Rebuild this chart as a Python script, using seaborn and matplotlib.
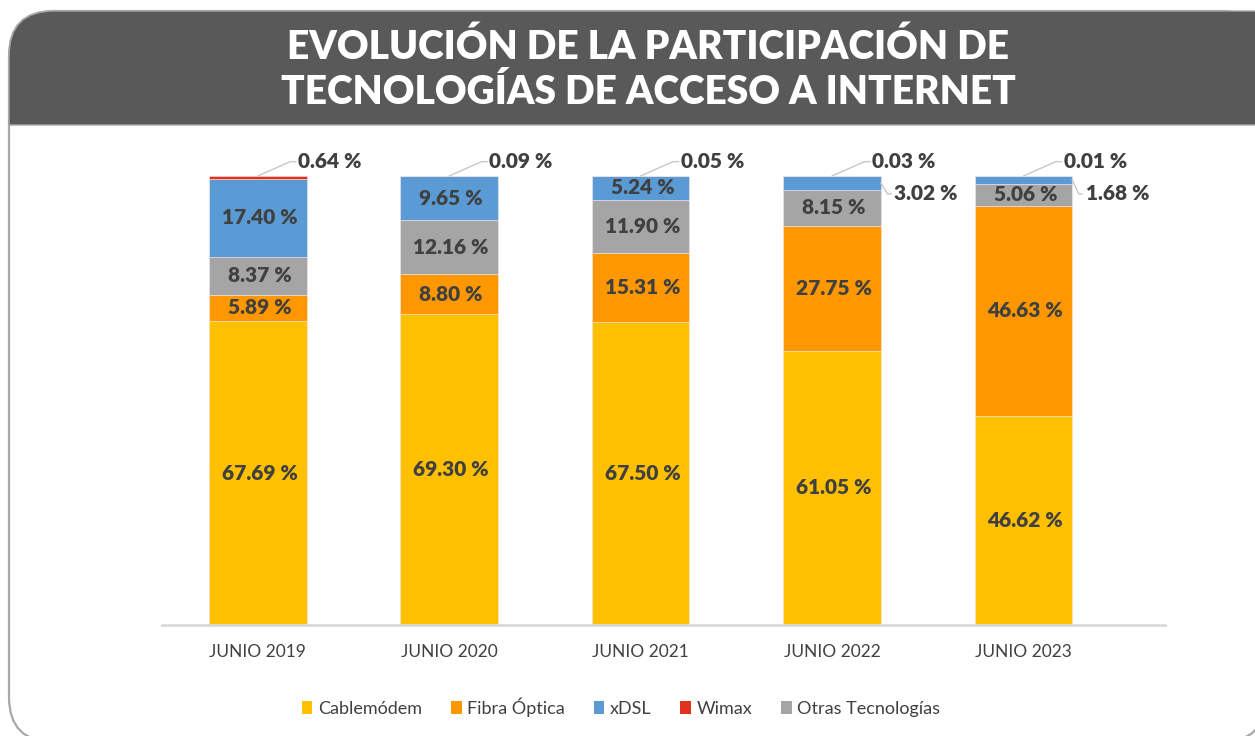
import numpy as np
import pandas as pd
import matplotlib
matplotlib.use("Agg")
import matplotlib.pyplot as plt
import seaborn as sns
from matplotlib.path import Path
from matplotlib.patches import PathPatch, Patch

# ---------------- data ----------------
years = ["JUNIO 2019", "JUNIO 2020", "JUNIO 2021", "JUNIO 2022", "JUNIO 2023"]
cablemodem = [67.69, 69.30, 67.50, 61.05, 46.62]
fibra = [5.89, 8.80, 15.31, 27.75, 46.63]
otras = [8.37, 12.16, 11.90, 8.15, 5.06]
xdsl = [17.40, 9.65, 5.24, 3.02, 1.68]
wimax = [0.64, 0.09, 0.05, 0.03, 0.01]

title_lines = ["EVOLUCIÓN DE LA PARTICIPACIÓN DE", "TECNOLOGÍAS DE ACCESO A INTERNET"]
legend_labels = ["Cablemódem", "Fibra Óptica", "xDSL", "Wimax", "Otras Tecnologías"]

colors = {
    "Cablemódem": "#FFC000",
    "Fibra Óptica": "#FF9800",
    "Otras Tecnologías": "#A5A5A5",
    "xDSL": "#5B9BD5",
    "Wimax": "#E0301E",
}
stack_order = [("Cablemódem", cablemodem), ("Fibra Óptica", fibra),
               ("Otras Tecnologías", otras), ("xDSL", xdsl), ("Wimax", wimax)]

sns.set_theme(style="white")
plt.rcParams["font.family"] = ["Lato", "DejaVu Sans"]

W, H = 1255, 736
fig = plt.figure(figsize=(W / 100, H / 100), dpi=100)

def P(x, y):
    return (x / W, 1 - y / H)

# card outline
L, T, R, B, r = 9, 11, 1266, 742, 45
card = Path([P(L, T + r), P(L, B - r), P(L, B), P(L + r, B), P(R - r, B), P(R, B), P(R, B - r),
             P(R, T + r), P(R, T), P(R - r, T), P(L + r, T), P(L, T), P(L, T + r)],
            [Path.MOVETO, Path.LINETO, Path.CURVE3, Path.CURVE3, Path.LINETO, Path.CURVE3, Path.CURVE3,
             Path.LINETO, Path.CURVE3, Path.CURVE3, Path.LINETO, Path.CURVE3, Path.CURVE3])
fig.patches.append(PathPatch(card, transform=fig.transFigure, facecolor="white",
                             edgecolor="#A8A8A8", lw=1.6, zorder=-2))
# banner
bp = Path([P(L, 125), P(L, T + r), P(L, T), P(L + r, T), P(1300, T), P(1300, 125), P(L, 125)],
          [Path.MOVETO, Path.LINETO, Path.CURVE3, Path.CURVE3, Path.LINETO, Path.LINETO, Path.CLOSEPOLY])
fig.patches.append(PathPatch(bp, transform=fig.transFigure, facecolor="#595959",
                             edgecolor="#A8A8A8", lw=1.0, zorder=-1))

fig.text(648 / W, 1 - 47 / H, title_lines[0], ha="center", va="center", color="white",
         fontsize=28, fontweight="heavy", family=["Lato", "DejaVu Sans"])
fig.text(648 / W, 1 - 92 / H, title_lines[1], ha="center", va="center", color="white",
         fontsize=28, fontweight="heavy", family=["Lato", "DejaVu Sans"])

# axes
ax_l, ax_r = 162, 1165
ax_t, ax_b = 176, 625
ax = fig.add_axes([ax_l / W, 1 - ax_b / H, (ax_r - ax_l) / W, (ax_b - ax_t) / H])
ax.set_zorder(3)
ax.patch.set_alpha(0)

bw = 0.51
bottom = np.zeros(len(years))
for name, vals in stack_order:
    df = pd.DataFrame({"year": years, "value": vals})
    sns.barplot(data=df, x="year", y="value", color=colors[name], width=bw,
                bottom=bottom.copy(), ax=ax, saturation=1, edgecolor="#F5E6E6", linewidth=0.4)
    bottom = bottom + np.array(vals)

ax.set_xlim(-0.5, 4.74)
ax.set_ylim(0, 100)
ax.set_yticks([])
ax.set_xlabel("")
ax.set_ylabel("")
for s in ["top", "right", "left"]:
    ax.spines[s].set_visible(False)
ax.spines["bottom"].set_color("#D9D9D9")
ax.spines["bottom"].set_linewidth(2)
ax.tick_params(axis="x", length=0, pad=14, labelsize=12.5, labelcolor="#404040")

FS = 15
lab_kw = dict(ha="center", va="center", fontsize=FS, fontweight="heavy", color="#404040")
line_c = "#C8C8C8"

def fmt(v):
    return f"{v:.2f} %"

for i in range(len(years)):
    base = 0.0
    for name, vals in stack_order:
        v = vals[i]
        c = base + v / 2
        if name == "Wimax":
            top = base + v
            ty = 103.2
            ax.plot([i, i + 0.17, i + 0.20], [top, ty, ty], color=line_c, lw=1, clip_on=False)
            ax.text(i + 0.21, ty, fmt(v), ha="left", va="center", fontsize=FS,
                    fontweight="heavy", color="#404040", clip_on=False)
        elif name == "xDSL" and v < 4:
            ty = 96.0
            ax.plot([i + bw / 2, i + 0.29, i + 0.31], [c, ty, ty], color=line_c, lw=1, clip_on=False)
            ax.text(i + 0.325, ty, fmt(v), ha="left", va="center", fontsize=FS,
                    fontweight="heavy", color="#404040", clip_on=False)
        else:
            ax.text(i + 0.01, c, fmt(v), **lab_kw)
        base += v

handles = [Patch(facecolor=colors[n], edgecolor="none") for n in legend_labels]
leg = fig.legend(handles, legend_labels, loc="center", bbox_to_anchor=(621 / W, 1 - 707 / H), ncol=5,
                 frameon=False, fontsize=13, labelcolor="#404040", handlelength=0.6, handleheight=0.75,
                 handletextpad=0.3, columnspacing=1.6)
leg.set_zorder(4)

fig.savefig("out.png", dpi=100)
